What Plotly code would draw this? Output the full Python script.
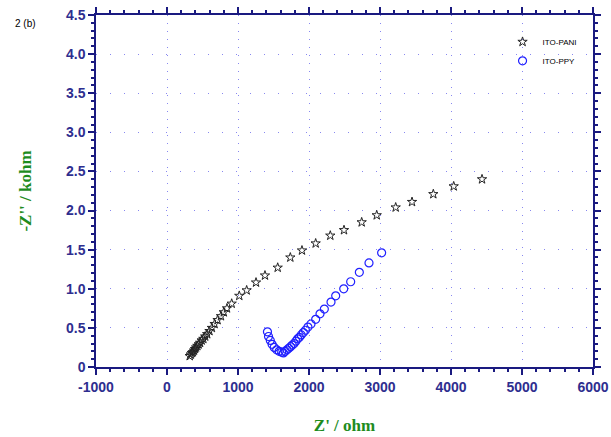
import plotly.graph_objects as go

# ITO-PANI : Z' (ohm), -Z'' (kohm)
pani_zre = [320, 335, 350, 365, 380, 395, 410, 428, 446, 466, 488, 512, 538, 566, 598, 632, 670, 712,
            760, 800, 845, 911, 1018, 1122, 1254, 1380, 1559, 1737, 1901, 2094, 2300, 2493, 2742, 2954,
            3221, 3451, 3751, 4038, 4437]
pani_zim = [0.14, 0.16, 0.18, 0.19, 0.21, 0.23, 0.25, 0.27, 0.29, 0.31, 0.34, 0.36, 0.39, 0.42, 0.46,
            0.50, 0.55, 0.60, 0.65, 0.70, 0.75, 0.81, 0.91, 0.98, 1.08, 1.17, 1.27, 1.40, 1.49, 1.58,
            1.68, 1.75, 1.85, 1.94, 2.04, 2.11, 2.21, 2.31, 2.40]

# ITO-PPY
ppy_zre = [1415, 1430, 1455, 1480, 1510, 1545, 1580, 1615, 1640, 1665, 1690, 1715, 1740, 1765, 1790,
           1815, 1840, 1865, 1890, 1920, 1950, 1985, 2028, 2094, 2155, 2216, 2310, 2376, 2489, 2587,
           2709, 2845, 3023]
ppy_zim = [0.45, 0.39, 0.34, 0.29, 0.25, 0.22, 0.20, 0.19, 0.18, 0.20, 0.22, 0.24, 0.26, 0.28, 0.30,
           0.33, 0.36, 0.38, 0.41, 0.44, 0.47, 0.51, 0.55, 0.61, 0.68, 0.74, 0.83, 0.91, 1.00, 1.09,
           1.21, 1.33, 1.46]

x_ticks = [-1000, 0, 1000, 2000, 3000, 4000, 5000, 6000]
x_ticktext = ["-1000", "0", "1000", "2000", "3000", "4000", "5000", "6000"]
y_ticks = [0, 0.5, 1.0, 1.5, 2.0, 2.5, 3.0, 3.5, 4.0, 4.5]
y_ticktext = ["0", "0.5", "1.0", "1.5", "2.0", "2.5", "3.0", "3.5", "4.0", "4.5"]

navy = "#1a1a80"
tickcol = "#2e2e8f"
gridcol = "#8888f0"
green = "#1e8c1e"

fig = go.Figure()
fig.add_trace(go.Scatter(x=pani_zre, y=pani_zim, mode="markers", name="ITO-PANI",
                         marker=dict(symbol="star-open", size=7, color="#222222",
                                     line=dict(width=1, color="#222222"))))
fig.add_trace(go.Scatter(x=ppy_zre, y=ppy_zim, mode="markers", name="ITO-PPY",
                         marker=dict(symbol="circle-open", size=8, color="#2020ff",
                                     line=dict(width=1.2, color="#2020ff"))))

axis_common = dict(showline=True, linecolor=navy, linewidth=1.5, mirror="allticks",
                   ticks="outside", ticklen=6, tickcolor=navy, tickwidth=1.5,
                   zeroline=False, showgrid=True, gridcolor=gridcol, gridwidth=1,
                   automargin=False,
                   tickfont=dict(family="Arial", size=14, color=tickcol, weight="bold"))

fig.update_xaxes(range=[-1000, 6000], tickvals=x_ticks, ticktext=x_ticktext,
                 minor=dict(dtick=200, ticks="outside", ticklen=3, tickcolor=navy, showgrid=False),
                 griddash="1px,7px",
                 title=dict(text="Z' / ohm", font=dict(family="Times New Roman", size=17,
                                                        color=green, weight="bold"), standoff=26),
                 **axis_common)
fig.update_yaxes(range=[0, 4.5], tickvals=y_ticks, ticktext=y_ticktext,
                 minor=dict(dtick=0.1, ticks="outside", ticklen=3, tickcolor=navy, showgrid=False),
                 griddash="1px,13px",
                 title=dict(text="-Z'' / kohm", font=dict(family="Times New Roman", size=17,
                                                          color=green, weight="bold"), standoff=30),
                 **axis_common)

fig.add_annotation(text="2 (b)", xref="paper", yref="paper", x=-0.168, y=0.997, xanchor="left",
                   yanchor="top", showarrow=False, font=dict(family="Arial", size=10, color="black"))

fig.update_layout(width=611, height=437, margin=dict(l=96, r=18, t=15, b=70),
                  paper_bgcolor="white", plot_bgcolor="white",
                  legend=dict(x=0.818, y=0.965, xanchor="left", yanchor="top",
                              font=dict(family="Arial", size=8, color="black"),
                              bgcolor="rgba(0,0,0,0)", itemwidth=30, tracegroupgap=2))

fig.write_html("out.html", config={"displayModeBar": False},
               post_script="document.body.style.margin='0px';document.body.style.overflow='hidden';")
